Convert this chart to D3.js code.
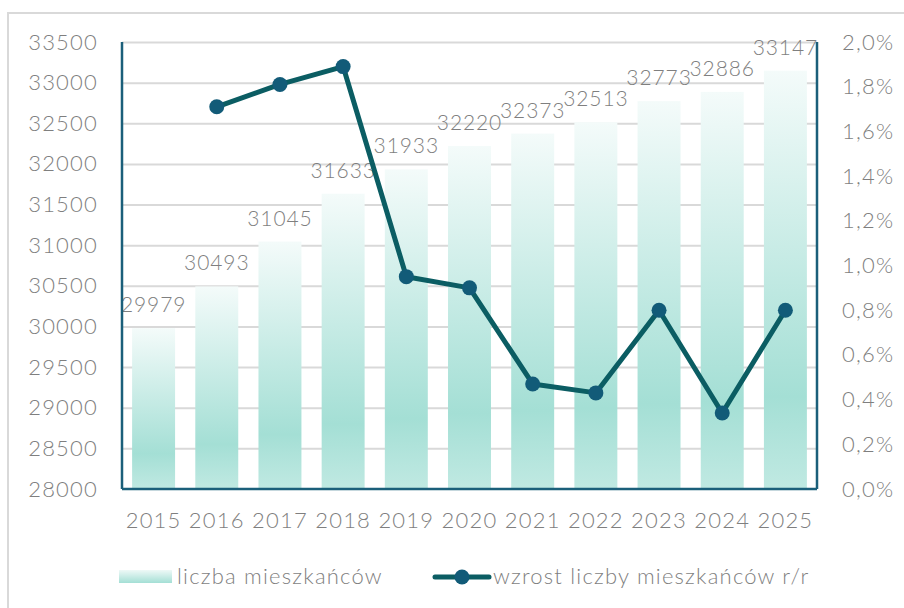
<!DOCTYPE html>
<html>
<head>
<meta charset="utf-8">
<script src="https://cdn.jsdelivr.net/npm/d3@7"></script>
<style>
    body { margin: 0; background: #fff; }
    svg text { font-family: Lato, "Open Sans", sans-serif; font-weight: 300; fill: #7f7f7f; }
</style>
</head>
<body>
<div id="chartContainer"></div>
<script>
const years = ['2015', '2016', '2017', '2018', '2019', '2020', '2021', '2022', '2023', '2024', '2025'];
const residents = [29979, 30493, 31045, 31633, 31933, 32220, 32373, 32513, 32773, 32886, 33147];
const growth = [null, 1.71, 1.81, 1.89, 0.95, 0.90, 0.47, 0.43, 0.80, 0.34, 0.80];
const leftTicks = [28000, 28500, 29000, 29500, 30000, 30500, 31000, 31500, 32000, 32500, 33000, 33500];
const rightTicks = [0, 0.2, 0.4, 0.6, 0.8, 1.0, 1.2, 1.4, 1.6, 1.8, 2.0];
const seriesNames = ['liczba mieszkańców', 'wzrost liczby mieszkańców r/r'];

const width = 904;
const height = 608;
const margin = { top: 42, right: 87, bottom: 119, left: 122 };
const innerW = width - margin.left - margin.right;
const innerH = height - margin.top - margin.bottom;

const svg = d3.select('#chartContainer')
    .append('svg')
    .attr('width', width)
    .attr('height', height);

// bar gradient
const defs = svg.append('defs');
const grad = defs.append('linearGradient')
    .attr('id', 'barGrad')
    .attr('x1', 0).attr('y1', 0).attr('x2', 0).attr('y2', 1);
grad.append('stop').attr('offset', '0%').attr('stop-color', '#f4fbfa');
grad.append('stop').attr('offset', '78%').attr('stop-color', '#a4dfd5');
grad.append('stop').attr('offset', '100%').attr('stop-color', '#c0e9e2');

const legGrad = defs.append('linearGradient')
    .attr('id', 'legGrad')
    .attr('x1', 0).attr('y1', 0).attr('x2', 0).attr('y2', 1);
legGrad.append('stop').attr('offset', '0%').attr('stop-color', '#eef9f7');
legGrad.append('stop').attr('offset', '100%').attr('stop-color', '#a4dfd5');

// outer frame
svg.append('rect')
    .attr('x', 8).attr('y', 13)
    .attr('width', 920).attr('height', 620)
    .attr('fill', 'none')
    .attr('stroke', '#d9d9d9')
    .attr('stroke-width', 2);

const g = svg.append('g')
    .attr('transform', `translate(${margin.left},${margin.top})`);

const x = d3.scaleBand()
    .domain(years)
    .range([0, innerW])
    .paddingInner(0.32)
    .paddingOuter(0.16);

const y = d3.scaleLinear()
    .domain([28000, 33500])
    .range([innerH, 0]);

const y2 = d3.scaleLinear()
    .domain([0, 2.0])
    .range([innerH, 0]);

const fontSize = '22px';
const spacing = '1.2px';

// gridlines
g.append('g')
    .call(d3.axisLeft(y).tickValues(leftTicks.slice(1)).tickSize(-innerW).tickFormat(''))
    .call(s => s.select('.domain').remove())
    .call(s => s.selectAll('line').attr('stroke', '#d9d9d9').attr('stroke-width', 2));

// bars
g.selectAll('.bar')
    .data(residents)
    .enter()
    .append('rect')
    .attr('class', 'bar')
    .attr('x', (d, i) => x(years[i]))
    .attr('y', d => y(d))
    .attr('width', x.bandwidth())
    .attr('height', d => innerH - y(d))
    .attr('fill', 'url(#barGrad)');

// bar labels
g.selectAll('.barLabel')
    .data(residents)
    .enter()
    .append('text')
    .attr('class', 'barLabel')
    .attr('x', (d, i) => x(years[i]) + x.bandwidth() / 2)
    .attr('y', d => y(d) - 16)
    .attr('text-anchor', 'middle')
    .style('font-size', '21px')
    .style('letter-spacing', '0.9px')
    .text(d => d);

// axes
const axisColor = '#1b5f7a';
g.append('line')
    .attr('x1', 0).attr('x2', 0).attr('y1', 0).attr('y2', innerH)
    .attr('stroke', axisColor).attr('stroke-width', 2.5);
g.append('line')
    .attr('x1', innerW).attr('x2', innerW).attr('y1', 0).attr('y2', innerH)
    .attr('stroke', axisColor).attr('stroke-width', 2.5);
g.append('line')
    .attr('x1', 0).attr('x2', innerW).attr('y1', innerH).attr('y2', innerH)
    .attr('stroke', axisColor).attr('stroke-width', 2.5);

g.append('g')
    .call(d3.axisLeft(y).tickValues(leftTicks).tickSize(0).tickPadding(24).tickFormat(d3.format('d')))
    .call(s => s.select('.domain').remove())
    .call(s => s.selectAll('text').style('font-size', fontSize).style('letter-spacing', spacing).attr('fill', '#7f7f7f'));

g.append('g')
    .attr('transform', `translate(${innerW},0)`)
    .call(d3.axisRight(y2).tickValues(rightTicks).tickSize(0).tickPadding(25)
        .tickFormat(d => d3.format('.1f')(d).replace('.', ',') + '%'))
    .call(s => s.select('.domain').remove())
    .call(s => s.selectAll('text').style('font-size', fontSize).style('letter-spacing', spacing).attr('fill', '#7f7f7f'));

g.append('g')
    .attr('transform', `translate(0,${innerH})`)
    .call(d3.axisBottom(x).tickSize(0).tickPadding(23))
    .call(s => s.select('.domain').remove())
    .call(s => s.selectAll('text').style('font-size', fontSize).style('letter-spacing', spacing).attr('fill', '#7f7f7f'));

// growth line
const lineData = growth.map((v, i) => ({ year: years[i], value: v })).filter(d => d.value !== null);
const lineColor = '#0b5d63';
const dotColor = '#125b78';

g.append('path')
    .datum(lineData)
    .attr('fill', 'none')
    .attr('stroke', lineColor)
    .attr('stroke-width', 5)
    .attr('stroke-linejoin', 'round')
    .attr('d', d3.line()
        .x(d => x(d.year) + x.bandwidth() / 2)
        .y(d => y2(d.value)));

g.selectAll('.dot')
    .data(lineData)
    .enter()
    .append('circle')
    .attr('class', 'dot')
    .attr('cx', d => x(d.year) + x.bandwidth() / 2)
    .attr('cy', d => y2(d.value))
    .attr('r', 7.5)
    .attr('fill', dotColor);

// legend
const legY = 577;
svg.append('rect')
    .attr('x', 119).attr('y', legY - 7)
    .attr('width', 53).attr('height', 13)
    .attr('fill', 'url(#legGrad)');
svg.append('text')
    .attr('x', 177).attr('y', legY + 7)
    .style('font-size', fontSize)
    .style('letter-spacing', spacing)
    .text(seriesNames[0]);

svg.append('line')
    .attr('x1', 435).attr('x2', 489).attr('y1', legY).attr('y2', legY)
    .attr('stroke', lineColor).attr('stroke-width', 5).attr('stroke-linecap', 'round');
svg.append('circle')
    .attr('cx', 462).attr('cy', legY).attr('r', 7.5).attr('fill', dotColor);
svg.append('text')
    .attr('x', 493).attr('y', legY + 7)
    .style('font-size', fontSize)
    .style('letter-spacing', spacing)
    .text(seriesNames[1]);
</script>
</body>
</html>
